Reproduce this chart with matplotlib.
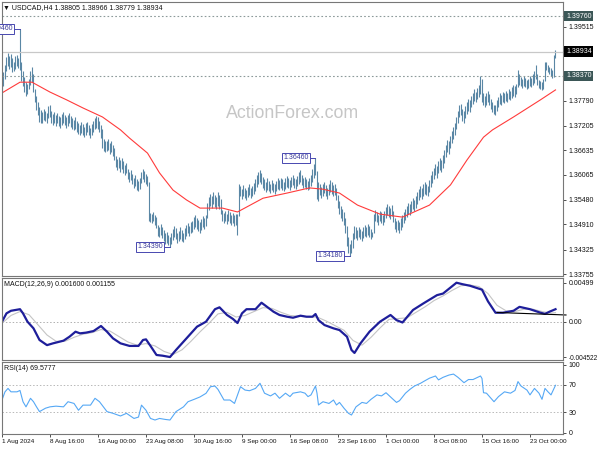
import matplotlib
matplotlib.use("Agg")
import matplotlib.pyplot as plt
import numpy as np
from matplotlib.transforms import blended_transform_factory

plt.rcParams['font.family'] = ['Liberation Sans', 'DejaVu Sans']

# ---------------- data ----------------
symbol_title = "USDCAD,H4"
last_ohlc = [1.38805, 1.38966, 1.38779, 1.38934]

highs = [
    1.3834, 1.3845, 1.3862, 1.3880, 1.3890, 1.3884, 1.3888, 1.3878, 1.3870, 1.3882,
    1.3886, 1.3879, 1.3946, 1.3870, 1.3848, 1.3835, 1.3822, 1.3818, 1.3830, 1.3848,
    1.3858, 1.3840, 1.3805, 1.3790, 1.3775, 1.3765, 1.3758, 1.3752, 1.3760, 1.3755,
    1.3750, 1.3766, 1.3768, 1.3755, 1.3748, 1.3752, 1.3745, 1.3750, 1.3744, 1.3740,
    1.3748, 1.3752, 1.3745, 1.3740, 1.3746, 1.3751, 1.3744, 1.3738, 1.3734, 1.3740,
    1.3732, 1.3728, 1.3722, 1.3730, 1.3724, 1.3718, 1.3726, 1.3730, 1.3722, 1.3716,
    1.3724, 1.3732, 1.3738, 1.3744, 1.3740, 1.3732, 1.3722, 1.3712, 1.3690, 1.3685,
    1.3686, 1.3690, 1.3680, 1.3684, 1.3676, 1.3668, 1.3650, 1.3644, 1.3648, 1.3640,
    1.3646, 1.3638, 1.3630, 1.3635, 1.3620, 1.3614, 1.3618, 1.3608, 1.3600, 1.3606,
    1.3596, 1.3592, 1.3600, 1.3612, 1.3620, 1.3616, 1.3608, 1.3604, 1.3590, 1.3518,
    1.3515, 1.3520, 1.3514, 1.3508, 1.3490, 1.3485, 1.3492, 1.3486, 1.3478, 1.3470,
    1.3474, 1.3466, 1.3462, 1.3472, 1.3480, 1.3488, 1.3482, 1.3470, 1.3476, 1.3484,
    1.3478, 1.3472, 1.3482, 1.3490, 1.3494, 1.3488, 1.3496, 1.3500, 1.3508, 1.3514,
    1.3506, 1.3502, 1.3496, 1.3504, 1.3510, 1.3506, 1.3514, 1.3540, 1.3555, 1.3562,
    1.3558, 1.3566, 1.3560, 1.3554, 1.3567, 1.3560, 1.3550, 1.3525, 1.3518, 1.3522,
    1.3516, 1.3524, 1.3520, 1.3514, 1.3518, 1.3512, 1.3516, 1.3515, 1.3585, 1.3580,
    1.3574, 1.3582, 1.3576, 1.3570, 1.3578, 1.3584, 1.3576, 1.3580, 1.3588, 1.3596,
    1.3605, 1.3614, 1.3618, 1.3610, 1.3602, 1.3596, 1.3590, 1.3598, 1.3592, 1.3586,
    1.3594, 1.3588, 1.3584, 1.3592, 1.3598, 1.3594, 1.3600, 1.3596, 1.3590, 1.3598,
    1.3604, 1.3600, 1.3594, 1.3602, 1.3606, 1.3600, 1.3596, 1.3604, 1.3612, 1.3618,
    1.3606, 1.3598, 1.3602, 1.3596, 1.3592, 1.3598, 1.3606, 1.3620, 1.3632, 1.3646,
    1.3615, 1.3590, 1.3585, 1.3578, 1.3584, 1.3590, 1.3582, 1.3576, 1.3586, 1.3594,
    1.3590, 1.3582, 1.3586, 1.3576, 1.3560, 1.3545, 1.3535, 1.3528, 1.3520, 1.3505,
    1.3488, 1.3462, 1.3445, 1.3455, 1.3470, 1.3488, 1.3484, 1.3478, 1.3486, 1.3480,
    1.3476, 1.3484, 1.3490, 1.3486, 1.3492, 1.3488, 1.3480, 1.3474, 1.3515, 1.3525,
    1.3520, 1.3514, 1.3522, 1.3520, 1.3514, 1.3522, 1.3532, 1.3538, 1.3534, 1.3530,
    1.3536, 1.3522, 1.3505, 1.3498, 1.3502, 1.3496, 1.3505, 1.3512, 1.3520, 1.3528,
    1.3534, 1.3542, 1.3538, 1.3546, 1.3552, 1.3548, 1.3556, 1.3566, 1.3574, 1.3580,
    1.3576, 1.3584, 1.3590, 1.3586, 1.3580, 1.3594, 1.3605, 1.3615, 1.3622, 1.3632,
    1.3628, 1.3638, 1.3646, 1.3642, 1.3652, 1.3664, 1.3676, 1.3688, 1.3684, 1.3696,
    1.3708, 1.3718, 1.3728, 1.3742, 1.3756, 1.3768, 1.3772, 1.3760, 1.3754, 1.3766,
    1.3776, 1.3784, 1.3780, 1.3790, 1.3798, 1.3805, 1.3800, 1.3808, 1.3815, 1.3837,
    1.3830, 1.3798, 1.3790, 1.3796, 1.3802, 1.3794, 1.3784, 1.3776, 1.3770, 1.3768,
    1.3780, 1.3788, 1.3796, 1.3792, 1.3800, 1.3796, 1.3802, 1.3798, 1.3806, 1.3802,
    1.3810, 1.3815, 1.3812, 1.3818, 1.3850, 1.3840, 1.3834, 1.3830, 1.3836, 1.3832,
    1.3826, 1.3830, 1.3836, 1.3832, 1.3840, 1.3848, 1.3862, 1.3840, 1.3828, 1.3825,
    1.3822, 1.3830, 1.3870, 1.3868, 1.3862, 1.3858, 1.3854, 1.3850, 1.3885, 1.38966,
]
lows = [
    1.3799, 1.3812, 1.3830, 1.3848, 1.3860, 1.3853, 1.3858, 1.3846, 1.3848, 1.3852,
    1.3860, 1.3855, 1.3850, 1.3825, 1.3812, 1.3800, 1.3790, 1.3795, 1.3805, 1.3815,
    1.3822, 1.3800, 1.3775, 1.3758, 1.3745, 1.3730, 1.3728, 1.3726, 1.3735, 1.3732,
    1.3727, 1.3738, 1.3740, 1.3728, 1.3722, 1.3728, 1.3720, 1.3726, 1.3720, 1.3716,
    1.3722, 1.3728, 1.3722, 1.3715, 1.3720, 1.3726, 1.3718, 1.3712, 1.3710, 1.3714,
    1.3706, 1.3702, 1.3698, 1.3704, 1.3700, 1.3694, 1.3700, 1.3706, 1.3698, 1.3692,
    1.3698, 1.3706, 1.3712, 1.3716, 1.3714, 1.3705, 1.3692, 1.3670, 1.3662, 1.3660,
    1.3662, 1.3665, 1.3656, 1.3660, 1.3650, 1.3640, 1.3625, 1.3618, 1.3622, 1.3614,
    1.3620, 1.3610, 1.3606, 1.3610, 1.3596, 1.3590, 1.3594, 1.3584, 1.3576, 1.3580,
    1.3572, 1.3568, 1.3574, 1.3588, 1.3596, 1.3590, 1.3584, 1.3580, 1.3500, 1.3497,
    1.3494, 1.3498, 1.3490, 1.3482, 1.3465, 1.3462, 1.3466, 1.3460, 1.3452, 1.3445,
    1.3448, 1.3442, 1.3439, 1.3445, 1.3455, 1.3462, 1.3456, 1.3448, 1.3452, 1.3458,
    1.3452, 1.3450, 1.3456, 1.3464, 1.3470, 1.3464, 1.3470, 1.3474, 1.3480, 1.3486,
    1.3480, 1.3476, 1.3472, 1.3478, 1.3484, 1.3480, 1.3488, 1.3505, 1.3525, 1.3535,
    1.3530, 1.3538, 1.3532, 1.3526, 1.3535, 1.3528, 1.3515, 1.3500, 1.3494, 1.3498,
    1.3492, 1.3500, 1.3495, 1.3490, 1.3494, 1.3488, 1.3490, 1.3466, 1.3510, 1.3556,
    1.3550, 1.3558, 1.3552, 1.3548, 1.3554, 1.3560, 1.3552, 1.3556, 1.3562, 1.3568,
    1.3578, 1.3585, 1.3590, 1.3584, 1.3576, 1.3570, 1.3566, 1.3572, 1.3568, 1.3564,
    1.3570, 1.3566, 1.3562, 1.3568, 1.3574, 1.3570, 1.3576, 1.3572, 1.3568, 1.3574,
    1.3578, 1.3576, 1.3572, 1.3578, 1.3582, 1.3576, 1.3574, 1.3580, 1.3586, 1.3590,
    1.3582, 1.3576, 1.3578, 1.3574, 1.3570, 1.3574, 1.3580, 1.3590, 1.3600, 1.3605,
    1.3550, 1.3545, 1.3560, 1.3552, 1.3558, 1.3564, 1.3556, 1.3550, 1.3560, 1.3566,
    1.3562, 1.3556, 1.3560, 1.3548, 1.3530, 1.3515, 1.3505, 1.3498, 1.3490, 1.3470,
    1.3440, 1.3425, 1.3418, 1.3425, 1.3435, 1.3458, 1.3460, 1.3454, 1.3462, 1.3458,
    1.3452, 1.3460, 1.3464, 1.3462, 1.3466, 1.3462, 1.3458, 1.3462, 1.3470, 1.3500,
    1.3496, 1.3490, 1.3498, 1.3494, 1.3490, 1.3496, 1.3505, 1.3512, 1.3508, 1.3504,
    1.3510, 1.3496, 1.3480, 1.3474, 1.3478, 1.3472, 1.3478, 1.3486, 1.3494, 1.3502,
    1.3508, 1.3515, 1.3512, 1.3520, 1.3526, 1.3522, 1.3530, 1.3538, 1.3548, 1.3554,
    1.3550, 1.3558, 1.3562, 1.3560, 1.3556, 1.3566, 1.3578, 1.3588, 1.3596, 1.3605,
    1.3600, 1.3610, 1.3618, 1.3614, 1.3622, 1.3635, 1.3648, 1.3660, 1.3656, 1.3668,
    1.3680, 1.3690, 1.3700, 1.3712, 1.3728, 1.3740, 1.3745, 1.3732, 1.3728, 1.3738,
    1.3748, 1.3755, 1.3752, 1.3764, 1.3772, 1.3778, 1.3776, 1.3782, 1.3788, 1.3795,
    1.3775, 1.3770, 1.3764, 1.3770, 1.3776, 1.3768, 1.3760, 1.3752, 1.3748, 1.3746,
    1.3756, 1.3764, 1.3772, 1.3770, 1.3776, 1.3774, 1.3778, 1.3776, 1.3782, 1.3780,
    1.3786, 1.3790, 1.3788, 1.3794, 1.3810, 1.3815, 1.3812, 1.3808, 1.3812, 1.3810,
    1.3806, 1.3808, 1.3814, 1.3810, 1.3816, 1.3820, 1.3830, 1.3815, 1.3808, 1.3805,
    1.3804, 1.3805, 1.3825, 1.3850, 1.3845, 1.3840, 1.3836, 1.3832, 1.3835, 1.38779,
]

# moving average (red), read at bar positions
ma_bars = [0, 12, 20, 32, 43, 54, 67, 79, 85, 97, 105, 114, 123, 132, 147, 157, 174, 190,
           205, 214, 225, 237, 252, 267, 285, 299, 310, 321, 327, 341, 359, 369]
ma_vals = [1.3797, 1.3822, 1.3822, 1.3799, 1.3781, 1.3762, 1.3741, 1.3711, 1.3692, 1.3657,
           1.3611, 1.3571, 1.3548, 1.3529, 1.3529, 1.3520, 1.3552, 1.3564, 1.3576, 1.3573,
           1.3564, 1.3536, 1.3515, 1.3508, 1.3536, 1.3583, 1.3641, 1.3694, 1.3711, 1.3741,
           1.3781, 1.3804]

# labelled swing points
swing_bars = [12, 112, 209, 232]
swing_prices = [1.39460, 1.34390, 1.36460, 1.34180]

# horizontal levels
level_prices = [1.39760, 1.38370]

# MACD(12,26,9)
macd_bars = [0, 3, 6, 12, 14, 17, 21, 25, 30, 34, 41, 45, 49, 52, 56, 61, 66, 70, 74, 79,
             85, 91, 94, 96, 99, 103, 107, 112, 116, 123, 130, 136, 142, 145, 150, 154, 157,
             160, 163, 169, 173, 176, 181, 185, 190, 194, 199, 203, 207, 209, 211, 215, 221,
             225, 230, 233, 235, 239, 245, 252, 259, 263, 267, 274, 281, 290, 294, 303, 307,
             312, 320, 324, 329, 334, 341, 345, 352, 359, 362, 365, 369]
macd_vals = [0.0, 0.00107, 0.0014, 0.0016, 0.00107, 0.0, -0.00085, -0.00234, -0.0030,
             -0.00277, -0.00243, -0.00192, -0.00128, -0.00149, -0.0014, -0.0012, -0.00055,
             -0.00128, -0.00213, -0.00277, -0.0031, -0.0031, -0.00234, -0.00226, -0.0031,
             -0.00426, -0.00435, -0.004522, -0.00362, -0.00213, -0.00064, 0.0, 0.0016,
             0.00184, 0.00086, 0.00035, -0.00017, 0.00107, 0.0016, 0.0016, 0.00243, 0.0020,
             0.00128, 0.00086, 0.00064, 0.00051, 0.00077, 0.00064, 0.00064, 0.00098, 0.0002,
             -0.00043, -0.00085, -0.00107, -0.00192, -0.00362, -0.0040, -0.00277, -0.00128,
             0.0, 0.00086, 0.0002, -0.0001, 0.0015, 0.00235, 0.0034, 0.0036, 0.00499, 0.0048,
             0.0046, 0.0041, 0.0026, 0.00115, 0.00115, 0.0014, 0.0019, 0.0016, 0.00115, 0.0010,
             0.00128, 0.0016]
signal_bars = list(range(0, 367, 6)) + [369]
signal_vals = [-0.0002, 0.0008, 0.0013, 0.0009, -0.0004, -0.0017, -0.0025, -0.0025, -0.0020,
               -0.0016, -0.0014, -0.0010, -0.0012, -0.0019, -0.0026, -0.0030, -0.0028, -0.0031,
               -0.0038, -0.0042, -0.0036, -0.0025, -0.0013, -0.0002, 0.0010, 0.0012, 0.0006,
               0.0008, 0.0013, 0.0018, 0.0017, 0.0012, 0.0008, 0.0007, 0.0006, 0.0006, 0.0001,
               -0.0005, -0.0011, -0.0024, -0.0030, -0.0020, -0.0008, 0.0003, 0.0004, 0.0005,
               0.0012, 0.0019, 0.0027, 0.0033, 0.0040, 0.0046, 0.0047, 0.0045, 0.0036, 0.0021,
               0.0014, 0.0013, 0.0016, 0.0016, 0.0013, 0.0011, 0.001155]
macd_now = [0.001600, 0.001155]
trend_bars = [330, 376]
trend_vals = [0.00118, 0.00086]

# RSI(14)
rsi_bars = [0, 2, 4, 6, 10, 12, 14, 16, 19, 21, 23, 25, 29, 32, 36, 41, 44, 48, 51, 54, 59, 62,
            65, 70, 74, 79, 83, 88, 91, 93, 96, 99, 102, 105, 109, 112, 116, 121, 124, 128,
            132, 136, 139, 142, 144, 148, 152, 155, 159, 162, 165, 169, 172, 175, 179, 182,
            185, 189, 192, 194, 199, 202, 204, 206, 209, 210, 211, 214, 218, 221, 223, 225,
            228, 231, 233, 236, 240, 243, 246, 250, 253, 256, 260, 263, 265, 269, 272, 275,
            279, 282, 285, 289, 291, 294, 298, 301, 304, 308, 311, 314, 319, 320, 321, 323,
            328, 331, 335, 339, 342, 344, 346, 350, 352, 355, 358, 360, 362, 364, 366, 369]
rsi_vals = [48, 60, 65, 60, 60, 62, 45.5, 38, 50.5, 45.5, 38, 31, 36, 38, 39, 38, 45.5, 43, 33,
            40.5, 40.5, 50.5, 45.5, 31, 28.5, 24.6, 28.5, 21, 23, 40.5, 33, 21, 18.7, 21, 19.5,
            18.7, 31, 38, 45.5, 48.9, 52.5, 57.8, 67.5, 68.4, 63.5, 48, 48, 43, 67.5, 62.6,
            61.6, 65, 72.5, 58, 54, 58, 50.5, 58, 53, 58, 60, 58, 53, 55.5, 68.5, 58, 40.7,
            45.5, 43, 48, 40.7, 44.5, 36, 28.5, 26, 38, 44.5, 43, 49, 55.5, 54, 58.7, 50.5,
            44.5, 47, 58, 63.7, 68.5, 72.5, 76.3, 80, 83.2, 77.5, 81.2, 84.6, 86, 81.2, 73.4,
            78, 78, 83.2, 79.5, 58.7, 58, 45.5, 53, 60, 58, 62, 75, 68.5, 62.5, 55.5, 65, 58,
            49, 65, 60, 55.5, 69.5777]

price_ticks = [1.39515, 1.37790, 1.37205, 1.36635, 1.36065, 1.35480, 1.34910, 1.34325, 1.33755]
time_tick_bars = [0, 32, 64, 96, 128, 160, 192, 224, 256, 288, 320, 352]
time_tick_labels = ["1 Aug 2024", "8 Aug 16:00", "16 Aug 00:00", "23 Aug 08:00",
                    "30 Aug 16:00", "9 Sep 00:00", "16 Sep 08:00", "23 Sep 16:00",
                    "1 Oct 00:00", "8 Oct 08:00", "15 Oct 16:00", "23 Oct 00:00"]

# ---------------- style ----------------
W, H = 600, 450
BAR_C = '#5a87a5'
SPINE_C = '#777777'
FS = 5.0

fig = plt.figure(figsize=(6, 4.5), dpi=100)
L, R = 1.5, 563.0
def axes_px(top, bottom):
    return fig.add_axes([L / W, 1 - bottom / H, (R - L) / W, (bottom - top) / H])

ax1 = axes_px(2, 276)
ax2 = axes_px(278, 360)
ax3 = axes_px(362, 434)

n = len(highs)
idx = np.arange(n)
XL = (-0.33, 374.0)

for ax in (ax1, ax2, ax3):
    ax.set_xlim(*XL)
    for s in ax.spines.values():
        s.set_color(SPINE_C)
        s.set_linewidth(0.8)
    ax.yaxis.tick_right()
    ax.tick_params(axis='y', direction='out', length=2.2, width=0.6, color='#333333',
                   labelsize=FS, pad=2, labelcolor='#111111')
    ax.tick_params(axis='x', bottom=False, labelbottom=False)

# ---- main price panel
ax1.set_ylim(1.33710, 1.40086)
ax1.vlines(idx, lows, highs, color=BAR_C, lw=0.8)
ax1.plot(ma_bars, ma_vals, color='#ff3b3b', lw=0.8)
for lv in level_prices:
    ax1.axhline(lv, color='#8c9a9a', lw=0.8, ls=(0, (1.5, 2)))
ax1.axhline(last_ohlc[3], color='#c8c8c8', lw=0.9)
ax1.set_yticks(price_ticks)
ax1.set_yticklabels([f"{p:.5f}" for p in price_ticks])

ytr = blended_transform_factory(ax1.transAxes, ax1.transData)
xoff = 1 + 3 / (R - L)
for lv in level_prices:
    ax1.text(xoff, lv, f"{lv:.5f}", transform=ytr, fontsize=FS, color='white', ha='left',
             va='center', clip_on=False,
             bbox=dict(boxstyle='square,pad=0.25', fc='#3b5656', ec='none'))
ax1.text(xoff, last_ohlc[3], f"{last_ohlc[3]:.5f}", transform=ytr, fontsize=FS, color='white',
         ha='left', va='center', clip_on=False,
         bbox=dict(boxstyle='square,pad=0.25', fc='black', ec='none'))

# swing labels
bar_w_px = (R - L) / (XL[1] - XL[0])
gap = 7 / bar_w_px
for b, p in zip(swing_bars, swing_prices):
    ax1.plot([b - gap, b], [p, p], color='#4848b0', lw=0.7)
    ax1.text(b - gap, p, f"{p:.5f}", fontsize=FS, color='#3a3a9a', ha='right', va='center',
             bbox=dict(boxstyle='square,pad=0.2', fc='white', ec='#4848b0', lw=0.7))

ax1.text(291 / (R - L), 1 - (113 - 2) / 274, "ActionForex.com", transform=ax1.transAxes,
         fontsize=12.8, color='#c6c6c6', ha='center', va='center')

fig.text(3 / W, 1 - 7.5 / H,
         "\u25BC " + symbol_title + " " + " ".join(f"{v:.5f}" for v in last_ohlc),
         fontsize=FS, color='#111111', ha='left', va='center')

# ---- MACD panel
ax2.set_ylim(-0.004902, 0.005594)
ax2.axhline(0, color='#b0b0b0', lw=0.7, ls=(0, (1.5, 2)))
ax2.plot(signal_bars, signal_vals, color='#c4c4c4', lw=0.8)
ax2.plot(macd_bars, macd_vals, color='#1e1e9a', lw=1.6)
ax2.plot(trend_bars, trend_vals, color='black', lw=0.8, clip_on=False)
ax2.set_yticks([0.00499, 0.0, -0.004522])
ax2.set_yticklabels(["0.00499", "0.00", "-0.004522"])
ax2.get_yticklabels()[2].set_fontsize(4.7)
ax2.text(3 / (R - L), 1 - 7 / 82, f"MACD(12,26,9) {macd_now[0]:.6f} {macd_now[1]:.6f}",
         transform=ax2.transAxes, fontsize=FS, color='#111111', ha='left', va='center')

# ---- RSI panel
ax3.set_ylim(-1.8, 103.7)
for lv in (70, 30):
    ax3.axhline(lv, color='#b8b8b8', lw=0.7, ls=(0, (1.5, 2)))
ax3.plot(rsi_bars, rsi_vals, color='#55a8f5', lw=0.8)
ax3.set_yticks([100, 70, 30, 0])
ax3.set_yticklabels(["100", "70", "30", "0"])
ax3.text(3 / (R - L), 1 - 7 / 72, f"RSI(14) {rsi_vals[-1]:.4f}", transform=ax3.transAxes,
         fontsize=FS, color='#111111', ha='left', va='center')

ax3.set_xticks(time_tick_bars)
ax3.tick_params(axis='x', bottom=True, labelbottom=False, direction='out', length=2.5,
                width=0.6, color='#333333')
xtr = blended_transform_factory(ax3.transData, ax3.transAxes)
for b, lab in zip(time_tick_bars, time_tick_labels):
    ax3.text(b, -0.1, lab, transform=xtr, fontsize=4.6, color='#111111', ha='left',
             va='center', clip_on=False)

fig.savefig("out.png", dpi=100, facecolor='white')
